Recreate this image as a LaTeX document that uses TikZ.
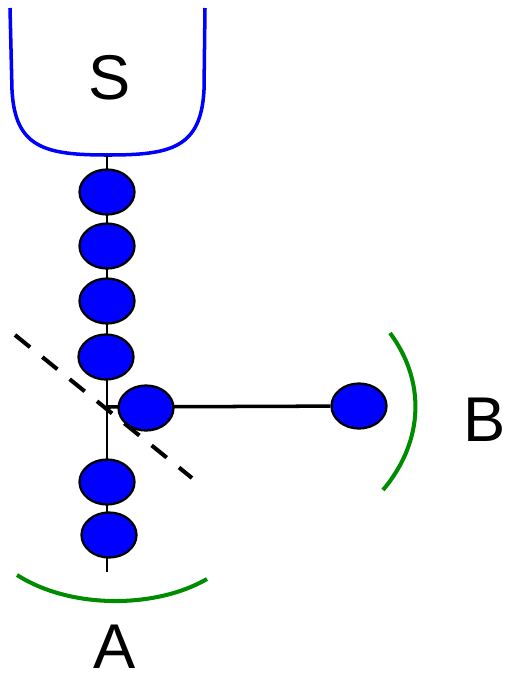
\documentclass[tikz,border=0pt]{standalone}
\usepackage{fontspec}
\setmainfont{Liberation Sans}
\usetikzlibrary{shapes.geometric}
\definecolor{arcgreen}{RGB}{0,140,0}
\tikzset{
  bead/.style={draw=black, fill=blue, ellipse, line width=1.3pt, minimum width=1.1cm, minimum height=0.9cm, inner sep=0pt},
  bigletter/.style={font=\fontsize{36}{40}\selectfont},
  surface/.style={arcgreen, line width=2.3pt}
}
\begin{document}
\begin{tikzpicture}[x=0.02cm, y=-0.02cm]
\useasboundingbox (0,0) rectangle (508,680);
% surface S
\draw[blue, line width=2pt] (10,8) -- (12,90) .. controls (15,148) and (45,155) .. (108,155) .. controls (171,155) and (201,148) .. (204,90) -- (205,8);
\node[bigletter](S) at (110,78) {S};
\coordinate (top) at (107,155);
\coordinate (joint) at (107,407);
\coordinate (bottom) at (107,572);
% chain
\draw[line width=1.3pt] (top) -- (joint) -- (bottom);
\node[bead](1) at (107,192) {};
\node[bead](2) at (107,246) {};
\node[bead](3) at (107,301) {};
\node[bead](4) at (106,357) {};
\node[bead](6) at (107,482) {};
\node[bead](7) at (109,535) {};
% branch
\node[bead](9) at (359,406) {};
\draw[line width=2pt] (joint) -- (9);
\node[bead](5) at (146,408) {};
% cut
\draw[dash pattern=on 11pt off 9pt, line width=2.3pt] (15,335) -- (192,478);
% surfaces A and B
\draw[surface] (390,333) .. controls (425,380) and (425,440) .. (383,490);
\node[bigletter](B) at (485,420) {B};
\draw[surface] (17,575) .. controls (70,609) and (155,609) .. (207,579);
\node[bigletter](A) at (115,647) {A};
\end{tikzpicture}
\end{document}
